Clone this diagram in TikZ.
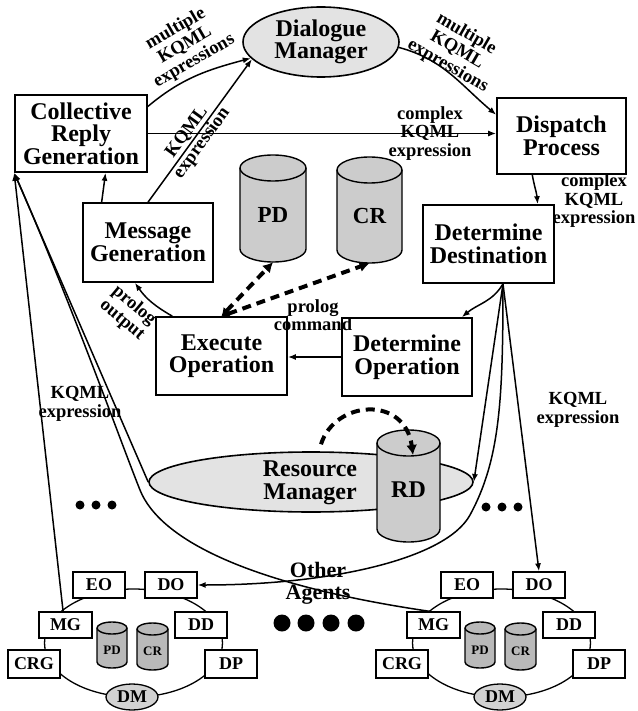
\documentclass[tikz,border=0pt]{standalone}
\usepackage{fontspec}
\setmainfont{Liberation Serif}
\usetikzlibrary{arrows.meta,shapes.geometric}

% text sizes
\newcommand{\txtbox}{\fontsize{24}{22.5}\selectfont\bfseries}
\newcommand{\txtlbl}{\fontsize{18.5}{18.5}\selectfont\bfseries}
\newcommand{\txtmini}{\fontsize{18}{18}\selectfont\bfseries}
\newcommand{\txtdb}{\fontsize{13}{13}\selectfont\bfseries}

% database cylinder: name, centre x, top y, bottom y, half width, lid radius, fill
\newcommand{\dbcyl}[7]{%
  \filldraw[fill=#7, line width=1.4pt] (#2-#5,#3+#6) -- (#2-#5,#4-#6)
     arc[start angle=180, end angle=0, x radius=#5, y radius=#6] -- (#2+#5,#3+#6)
     arc[start angle=0, end angle=-180, x radius=#5, y radius=#6] -- cycle;
  \draw[line width=1.4pt] (#2-#5,#3+#6) arc[start angle=180, end angle=0, x radius=#5, y radius=#6];
  \node[inner sep=0pt, minimum width={2*#5pt}, minimum height={(#4-#3)*1pt}] (#1) at (#2,{(#3+#4)/2}) {};
}

\tikzset{
  box/.style={draw, line width=1.6pt, fill=white, inner sep=0pt, align=center, font=\txtbox},
  minibox/.style={draw, line width=1.3pt, fill=white, inner sep=0pt, font=\txtmini,
                  minimum width=52, minimum height=26},
  oval/.style={draw, ellipse, line width=1.6pt, fill=gray!22, inner sep=0pt, align=center, font=\txtbox},
  ring/.style={draw, ellipse, line width=1.3pt, inner sep=0pt, minimum width=178, minimum height=108},
  lbl/.style={inner sep=0pt, align=center, font=\txtlbl},
  conn/.style={line width=1.5pt, -{Latex[length=8pt,width=6pt]}},
  dbarrow/.style={line width=4pt, dash pattern=on 9pt off 6pt,
                  {Latex[length=8pt,width=10pt]}-{Latex[length=10pt,width=11pt]}},
  dbone/.style={line width=4pt, dash pattern=on 9pt off 6pt, -{Latex[length=10pt,width=11pt]}},
  bigdot/.style={circle, fill, inner sep=0pt, minimum size=17pt},
  smalldot/.style={circle, fill, inner sep=0pt, minimum size=9pt},
}

% one remote agent: prefix, horizontal offset
\newcommand{\agentring}[2]{%
  \begin{scope}[xshift=#2pt]
    \node[ring] (#1ring) at (133.5,643) {};
    \node[minibox] (#1eo) at (99,585) {EO};
    \node[minibox] (#1do) at (171,585) {DO};
    \node[minibox, minimum width=53] (#1mg) at (65.5,625) {MG};
    \node[minibox] (#1dd) at (201,625) {DD};
    \node[minibox, minimum height=28] (#1crg) at (34,664) {CRG};
    \node[minibox, minimum height=28] (#1dp) at (231,664) {DP};
    \node[draw, ellipse, line width=1.3pt, fill=gray!35, inner sep=0pt, font=\txtmini,
          minimum width=52, minimum height=26] (#1dm) at (132,697) {DM};
    \dbcyl{#1pd}{112}{622}{668}{15}{6}{gray!55}
    \node[font=\txtdb] (#1pdtext) at ([yshift=-5pt]#1pd.center) {PD};
    \dbcyl{#1cr}{152.5}{623}{670}{15.5}{6}{gray!55}
    \node[font=\txtdb] (#1crtext) at ([yshift=-5pt]#1cr.center) {CR};
  \end{scope}
}

\begin{document}
\begin{tikzpicture}[x=1pt, y=-1pt]
\useasboundingbox (0,0) rectangle (637,711);

% ---- the agent itself ----
\node[oval, minimum width=156, minimum height=70] (dm) at (321,42) {Dialogue\\Manager};
\node[box, minimum width=132, minimum height=77] (crg) at (81,133.5) {Collective\\Reply\\Generation};
\node[box, minimum width=129, minimum height=76] (dp) at (561.5,136) {Dispatch\\Process};
\node[box, minimum width=130, minimum height=79] (mg) at (148,242.5) {Message\\Generation};
\node[box, minimum width=131, minimum height=78] (dd) at (488.5,244) {Determine\\Destination};
\node[box, minimum width=131, minimum height=78] (eo) at (221.5,356) {Execute\\Operation};
\node[box, minimum width=130, minimum height=78] (dop) at (407,357) {Determine\\Operation};

\dbcyl{pd}{273}{155}{262}{33}{13}{gray!40}
\node[font=\fontsize{23}{23}\selectfont\bfseries] (pdtext) at ([yshift=-6pt]pd.center) {PD};
\dbcyl{cr}{369.5}{157}{263}{32.5}{13}{gray!40}
\node[font=\fontsize{23}{23}\selectfont\bfseries] (crtext) at ([yshift=-6pt]cr.center) {CR};

\node[oval, minimum width=324, minimum height=60] (rm) at (311,482) {};
\dbcyl{rd}{408.5}{430}{542}{31.5}{13}{gray!40}
\node[lbl, font=\txtbox] (rmtext) at (310,483) {Resource\\Manager};
\node[font=\txtbox] (rdtext) at (408.5,490) {RD};

% ---- remote agents ----
\agentring{l}{0}
\agentring{r}{368}

% ---- labels ----
\node[lbl, rotate=30] (lblA) at (185,45) {multiple\\KQML\\expressions};
\node[lbl, rotate=-30] (lblB) at (457,50) {multiple\\KQML\\expressions};
\node[lbl] (lblC) at (594,201) {complex\\KQML\\expression};
\node[lbl] (lblD) at (313,315) {prolog\\command};
\node[lbl, rotate=-40] (lblE) at (128,313) {prolog\\output};
\node[lbl] (lblF) at (80,404) {KQML\\expression};
\node[lbl] (lblG) at (578,410) {KQML\\expression};
\node[lbl, font=\fontsize{22}{22}\selectfont\bfseries] (others) at (318,583) {Other\\Agents};

\node[smalldot] (la) at (80,505) {};
\node[smalldot] (lb) at (96,505) {};
\node[smalldot] (lc) at (112,505) {};
\node[smalldot] (ra) at (486,507) {};
\node[smalldot] (rb) at (502,507) {};
\node[smalldot] (rc) at (518,507) {};
\node[bigdot] (oa) at (282,623) {};
\node[bigdot] (ob) at (306,623) {};
\node[bigdot] (oc) at (331,623) {};
\node[bigdot] (od) at (356,623) {};

% ---- message flow ----
\draw[conn] (crg.22) to[out=40, in=195] (dm.193);
\draw[conn] (mg.north) -- (dm.194)
  node[lbl, pos=0.45, sloped] (lblH) {KQML\\expression};
\draw[conn] (dm.356) to[out=-15, in=140] (dp.162);
\draw[conn] (crg.east) -- (crg.east -| dp.west)
  node[lbl, pos=0.81] (lblI) {complex\\KQML\\expression};
\draw[conn] (dp.233) to[out=-80, in=95] (dd.39);
\draw[conn] (dd.290) to[out=240, in=40] (dop.36);
\draw[conn] (dop.west) -- (dop.west -| eo.east);
\draw[conn] (eo.141) to[out=150, in=-55] (mg.252);
\draw[conn] (mg.139) -- (crg.302);

% database access
\draw[dbarrow] (eo.north) -- (pd.south);
\draw[dbarrow] (eo.north) -- (cr.south);
\draw[dbone] ([yshift=7pt]rm.72) .. controls (335,400) and (405,395) .. ([shift={(4.5,-31)}]rd.center);

% routing to the resource manager and to other agents
\draw[conn] (dd.290) -- (rm.east);
\draw[conn] (dd.290) -- (rdo.north);
\draw[conn] (dd.290) .. controls (503,400) and (500,460) .. (470,515)
  .. controls (446,559) and (330,585) .. (ldo.east);

% replies coming back
\draw[conn] (rm.west) -- (crg.south west);
\draw[conn] (lmg.100) -- (crg.south west);
\draw[conn] (rmg.105) .. controls (250,585) and (160,540) .. (140,490)
  .. controls (120,440) and (70,300) .. (crg.south west);
\end{tikzpicture}
\end{document}
